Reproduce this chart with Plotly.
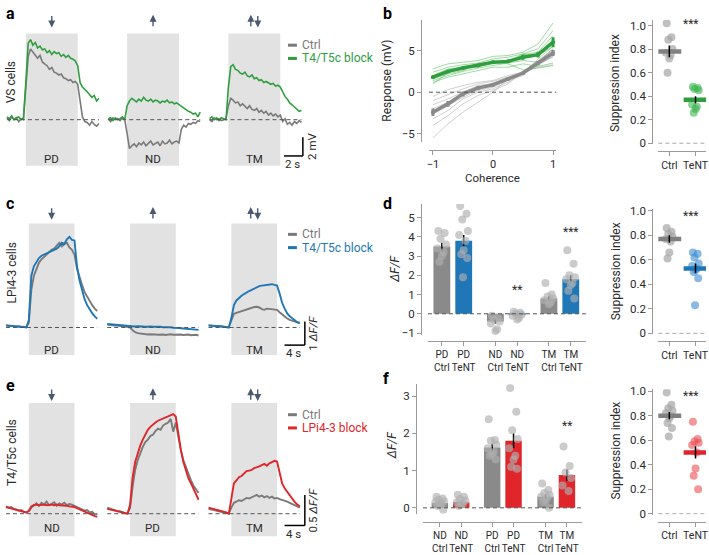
import numpy as np
import plotly.graph_objects as go

# ---------------- DATA ----------------
# Panel a: VS cells (mV), sampled every 0.25 s from -2.0 s; stimulus 0-5.5 s
A_PD_CTRL = [0.2,-0.1,0.3,0.0,0.2,-0.2,0.1,0.0, 3.5,6.8,7.6,7.3,7.0,6.6,6.9,6.2,6.0,5.8,5.4,5.6,5.1,5.0,4.8,4.9,4.5,4.4,4.2,4.3,4.0,4.1,3.8, 1.8,0.3,-0.2,-0.3,-0.6,-0.2,-0.5,-0.7,-0.4]
A_PD_BLOCK = [0.3,0.1,0.4,0.0,0.2,0.3,0.0,0.2, 4.0,8.2,8.6,8.0,8.3,7.7,7.9,7.5,7.6,7.2,7.4,7.0,7.3,7.1,7.2,6.8,7.0,6.7,6.9,6.6,6.5,6.3,5.8, 4.0,3.5,3.3,3.0,2.7,2.4,2.6,2.0,2.3]
A_ND_CTRL = [0.1,-0.2,0.2,0.0,0.1,-0.1,0.2,0.0, -1.5,-3.1,-2.8,-2.6,-2.9,-2.5,-2.7,-2.4,-2.8,-2.6,-2.3,-2.7,-2.5,-2.4,-2.8,-2.3,-2.6,-2.5,-2.2,-2.6,-2.4,-2.3,-2.5, -1.0,-0.6,-0.8,-0.4,-0.5,-0.3,-0.4,-0.1,-0.2]
A_ND_BLOCK = [0.1,0.2,-0.1,0.2,0.0,0.1,0.3,0.0, 1.5,2.0,2.3,2.1,1.9,2.2,2.0,2.4,2.1,2.0,2.2,1.9,2.1,2.0,1.8,2.0,1.9,2.1,1.8,1.9,1.7,1.8,1.6, 1.4,1.2,1.0,0.9,0.8,0.6,0.7,0.3,0.8]
A_TM_CTRL = [0.0,-0.2,0.2,0.0,0.1,-0.1,0.0,0.1, 1.5,2.3,2.1,1.8,1.9,1.5,1.7,1.4,1.2,1.5,1.1,1.0,1.2,0.8,1.0,0.7,0.9,0.5,0.7,0.4,0.6,0.3,0.5, -0.2,0.1,-0.5,-0.3,-0.6,-0.2,-0.4,-0.1,-0.3]
A_TM_BLOCK = [0.1,0.3,0.0,0.2,-0.1,0.2,0.1,0.0, 3.5,5.7,5.9,5.4,5.3,5.0,4.9,5.1,4.7,4.6,4.8,4.4,4.5,4.2,4.3,4.0,4.1,3.9,3.8,3.9,3.6,3.7,3.5, 3.0,2.5,2.2,1.8,1.6,1.4,1.2,0.9,1.0]

# Panel c: LPi4-3 cells (dF/F), sampled every 0.5 s from -4.5 s; stimulus 0-9 s
C_PD_CTRL = [0.1,0.08,0.06,0.07,0.04,0.05,0.02,0.03,0.0, 0.2,1.6,2.2,2.5,2.75,2.9,3.0,3.1,3.2,3.3,3.35,3.5,3.6,3.45,3.55,3.6,3.4,3.3,3.1, 2.5,2.1,1.8,1.5,1.3,1.1,0.95,0.8,0.7]
C_PD_BLOCK = [0.08,0.07,0.07,0.05,0.06,0.03,0.04,0.02,0.01, 0.3,2.2,2.6,2.8,2.95,3.05,3.1,3.15,3.2,3.25,3.3,3.35,3.45,3.6,3.55,3.75,3.85,3.72,3.7, 2.6,2.0,1.55,1.2,0.95,0.75,0.6,0.47,0.37]
C_ND_CTRL = [0.12,0.1,0.11,0.08,0.09,0.06,0.07,0.04,0.03, 0.0,-0.12,-0.2,-0.24,-0.26,-0.28,-0.27,-0.3,-0.29,-0.28,-0.3,-0.31,-0.29,-0.3,-0.32,-0.3,-0.29,-0.31,-0.3, -0.29,-0.3,-0.32,-0.31,-0.3,-0.33,-0.32,-0.31,-0.34]
C_ND_BLOCK = [0.15,0.14,0.12,0.13,0.1,0.1,0.08,0.09,0.07, 0.05,0.06,0.04,0.05,0.06,0.04,0.03,0.05,0.04,0.03,0.04,0.02,0.03,0.01,0.02,0.0,0.01,-0.01,0.0, -0.02,-0.03,-0.04,-0.03,-0.05,-0.06,-0.07,-0.08,-0.1]
C_TM_CTRL = [0.1,0.08,0.09,0.06,0.05,0.04,0.03,0.02,0.0, 0.3,0.58,0.62,0.66,0.7,0.74,0.78,0.8,0.83,0.87,0.88,0.85,0.78,0.75,0.8,0.78,0.76,0.74,0.75, 0.65,0.55,0.45,0.38,0.32,0.28,0.25,0.22,0.2]
C_TM_BLOCK = [0.08,0.06,0.07,0.05,0.06,0.04,0.03,0.02,0.0, 0.4,0.95,1.15,1.27,1.35,1.42,1.5,1.55,1.6,1.66,1.72,1.76,1.78,1.8,1.79,1.82,1.84,1.81,1.78, 1.45,1.05,0.8,0.6,0.48,0.38,0.3,0.22,0.17]

# Panel e: T4/T5c cells (dF/F), sampled every 0.5 s from -4.5 s; stimulus 0-9 s
E_ND_CTRL = [0.12,0.1,0.11,0.08,0.07,0.05,0.06,0.03,0.02, 0.04,0.1,0.14,0.17,0.13,0.18,0.15,0.2,0.14,0.16,0.19,0.13,0.17,0.15,0.18,0.14,0.16,0.15,0.13, 0.12,0.1,0.08,0.05,0.06,0.02,0.03,-0.01,0.0]
E_ND_BLOCK = [0.11,0.1,0.09,0.08,0.06,0.05,0.04,0.03,0.02, 0.05,0.12,0.14,0.15,0.14,0.15,0.15,0.14,0.15,0.15,0.14,0.15,0.14,0.14,0.13,0.13,0.12,0.12,0.11, 0.09,0.07,0.05,0.03,0.02,0.0,-0.02,-0.04,-0.05]
E_PD_CTRL = [0.1,0.08,0.07,0.06,0.04,0.04,0.02,0.01,0.0, 0.1,0.45,0.72,0.88,1.0,1.1,1.18,1.22,1.28,1.3,1.36,1.4,1.38,1.45,1.48,1.5,1.56,1.35,1.5, 1.25,1.05,0.88,0.76,0.64,0.55,0.46,0.4,0.34]
E_PD_BLOCK = [0.08,0.07,0.06,0.05,0.04,0.03,0.02,0.01,0.0, 0.15,0.6,0.85,1.0,1.12,1.22,1.3,1.38,1.43,1.47,1.5,1.53,1.55,1.56,1.58,1.6,1.62,1.64,1.6, 1.3,1.05,0.85,0.7,0.58,0.5,0.4,0.3,0.23]
E_TM_CTRL = [0.08,0.07,0.06,0.05,0.04,0.03,0.02,0.01,0.0, 0.1,0.18,0.2,0.22,0.21,0.24,0.26,0.25,0.27,0.29,0.31,0.28,0.3,0.27,0.29,0.26,0.28,0.25,0.26, 0.24,0.23,0.21,0.2,0.18,0.16,0.15,0.12,0.1]
E_TM_BLOCK = [0.1,0.09,0.08,0.07,0.05,0.04,0.03,0.02,0.0, 0.25,0.5,0.55,0.6,0.62,0.66,0.7,0.71,0.72,0.75,0.76,0.78,0.8,0.82,0.79,0.83,0.85,0.87,0.86, 0.65,0.5,0.42,0.36,0.3,0.24,0.19,0.15,0.12]

# Panel b: coherence tuning (mV)
COHERENCE = [-1, -0.75, -0.5, -0.25, 0, 0.25, 0.5, 0.75, 1]
B_BLOCK_FLIES = [
    [2.8, 3.4, 3.6, 3.8, 4.3, 4.4, 4.8, 5.8, 8.3],
    [2.4, 3.0, 3.3, 3.5, 4.0, 4.2, 4.6, 5.2, 7.4],
    [2.0, 2.8, 3.0, 3.0, 3.6, 3.6, 4.5, 4.8, 6.8],
    [1.6, 2.2, 2.6, 3.4, 3.6, 3.8, 4.2, 4.4, 6.2],
    [1.4, 2.0, 2.5, 2.9, 3.2, 3.5, 3.8, 3.6, 5.2],
    [1.2, 1.8, 2.2, 2.6, 3.0, 3.0, 3.4, 3.1, 3.5],
    [1.8, 2.6, 2.9, 3.1, 3.5, 3.4, 2.7, 2.9, 3.2],
    [1.0, 2.3, 3.1, 3.3, 3.6, 3.7, 4.6, 4.4, 5.5],
]
B_CTRL_FLIES = [
    [-0.5, 0.3, 0.8, 1.2, 1.4, 2.0, 2.4, 3.0, 3.3],
    [-1.0, -0.3, 0.4, 1.0, 1.3, 1.8, 2.2, 3.4, 4.3],
    [-1.5, -0.8, 0.0, 0.8, 1.0, 1.6, 2.4, 3.8, 5.2],
    [-2.0, -1.2, -0.3, 0.4, 1.0, 1.6, 2.3, 4.0, 5.5],
    [-2.6, -1.6, -0.6, 0.2, 0.6, 1.4, 2.0, 3.6, 4.8],
    [-3.2, -2.2, -0.8, 0.0, 0.4, 1.2, 2.2, 3.2, 4.4],
    [-4.0, -2.8, -1.4, -0.4, 0.2, 1.0, 2.5, 3.8, 5.0],
    [-5.5, -3.8, -2.4, -1.2, 0.0, 1.6, 2.2, 3.4, 4.2],
]
B_BLOCK_MEAN = [1.8, 2.5, 2.9, 3.2, 3.6, 3.7, 4.2, 4.5, 6.0]
B_BLOCK_SEM = [0.2, 0.15, 0.15, 0.15, 0.2, 0.2, 0.3, 0.35, 0.6]
B_CTRL_MEAN = [-2.4, -1.4, -0.2, 0.5, 0.9, 1.6, 2.3, 3.5, 4.7]
B_CTRL_SEM = [0.45, 0.35, 0.3, 0.2, 0.2, 0.2, 0.2, 0.25, 0.35]

# Suppression indices
SUP_CATS = ["Ctrl", "TeNT"]
B_SUP_CTRL = [1.02, 0.90, 0.88, 0.80, 0.77, 0.75, 0.72, 0.60]
B_SUP_TENT = [0.48, 0.47, 0.46, 0.45, 0.33, 0.31, 0.29, 0.26]
B_SUP_MEAN = [0.78, 0.37]
B_SUP_SEM = [0.05, 0.03]
D_SUP_CTRL = [0.86, 0.83, 0.81, 0.79, 0.77, 0.75, 0.66, 0.61]
D_SUP_TENT = [0.66, 0.65, 0.62, 0.57, 0.55, 0.53, 0.52, 0.50, 0.45, 0.23]
D_SUP_MEAN = [0.77, 0.53]
D_SUP_SEM = [0.03, 0.04]
F_SUP_CTRL = [0.99, 0.89, 0.86, 0.84, 0.82, 0.80, 0.78, 0.74, 0.70, 0.63]
F_SUP_TENT = [0.75, 0.61, 0.59, 0.58, 0.56, 0.50, 0.37, 0.31, 0.20]
F_SUP_MEAN = [0.80, 0.50]
F_SUP_SEM = [0.03, 0.05]

# Panel d bars (dF/F)
D_LABELS = ["PD<br>Ctrl", "PD<br>TeNT", "ND<br>Ctrl", "ND<br>TeNT", "TM<br>Ctrl", "TM<br>TeNT"]
D_MEANS = [3.5, 3.8, -0.4, -0.05, 0.8, 1.8]
D_SEMS = [0.2, 0.3, 0.1, 0.05, 0.12, 0.2]
D_POINTS = [
    [4.3, 4.2, 3.9, 3.6, 3.4, 3.2, 3.0, 2.7],
    [5.6, 5.2, 4.9, 4.3, 4.1, 3.8, 3.3, 3.1, 2.9, 1.9],
    [-0.1, -0.2, -0.3, -0.4, -0.5, -0.8, -0.9],
    [0.1, 0.05, 0.0, -0.05, -0.1, -0.2, -0.3],
    [1.6, 1.0, 0.9, 0.8, 0.7, 0.6, 0.5],
    [3.3, 2.6, 2.0, 1.9, 1.8, 1.6, 1.5, 1.2, 0.8],
]
# Panel f bars (dF/F)
F_LABELS = ["ND<br>Ctrl", "ND<br>TeNT", "PD<br>Ctrl", "PD<br>TeNT", "TM<br>Ctrl", "TM<br>TeNT"]
F_MEANS = [0.13, 0.15, 1.62, 1.8, 0.3, 0.88]
F_SEMS = [0.04, 0.04, 0.1, 0.2, 0.06, 0.15]
F_POINTS = [
    [0.3, 0.25, 0.22, 0.18, 0.15, 0.1, 0.08, 0.05, -0.05],
    [0.35, 0.3, 0.24, 0.2, 0.15, 0.1, 0.08, 0.05],
    [2.38, 1.82, 1.8, 1.7, 1.6, 1.5, 1.45, 1.4, 1.3],
    [3.22, 2.58, 2.08, 1.85, 1.6, 1.4, 1.3, 1.1, 1.05],
    [0.65, 0.48, 0.4, 0.35, 0.3, 0.28, 0.2, 0.15, 0.0],
    [1.65, 1.12, 0.95, 0.8, 0.6, 0.45],
]

# ---------------- STYLE / LAYOUT ----------------
W, H = 709, 555
FONT = "Roboto"
GRAYT = "#7a7a7a"
GREEN = "#2f9e3f"
BLUE = "#1f77b8"
RED = "#e0262b"
BOXC = "#e2e2e2"
ARROWC = "#4a5870"
AXC = "#9a9a9a"
TXT = "#2a2a2a"
JIT = [-0.10, 0.08, -0.04, 0.12, -0.13, 0.05, 0.0, -0.07, 0.10, -0.02]

fig = go.Figure()
layout = dict(width=W, height=H, margin=dict(l=0, r=0, t=0, b=0),
              paper_bgcolor="white", plot_bgcolor="rgba(0,0,0,0)",
              showlegend=False, font=dict(family=FONT, size=11, color=TXT))
shapes, anns = [], []
naxes = [0]


def X(px):
    return px / W


def Y(py):
    return 1 - py / H


def new_axes(xpx, ypx, xr, yr, xo=None, yo=None):
    naxes[0] += 1
    n = naxes[0]
    s = "" if n == 1 else str(n)
    base = dict(showgrid=False, zeroline=False, showline=False, showticklabels=False, ticks="")
    xa = dict(base, domain=[X(xpx[0]), X(xpx[1])], range=xr, anchor="y" + s)
    ya = dict(base, domain=[Y(ypx[1]), Y(ypx[0])], range=yr, anchor="x" + s)
    if xo:
        xa.update(xo)
    if yo:
        ya.update(yo)
    layout["xaxis" + s] = xa
    layout["yaxis" + s] = ya
    return "x" + s, "y" + s


def text(px, py, t, size=11, color=TXT, angle=0, xanchor="center", yanchor="middle"):
    anns.append(dict(x=X(px), y=Y(py), xref="paper", yref="paper", text=t, showarrow=False,
                     font=dict(size=size, color=color, family=FONT), textangle=angle,
                     xanchor=xanchor, yanchor=yanchor))


def arrow(px, up, ytop, ybot):
    if up:
        anns.append(dict(x=X(px), y=Y(ytop), xref="paper", yref="paper", ax=0, ay=ybot - ytop,
                         text="", showarrow=True, arrowhead=2, arrowsize=1, arrowwidth=1.4, arrowcolor=ARROWC))
    else:
        anns.append(dict(x=X(px), y=Y(ybot), xref="paper", yref="paper", ax=0, ay=ytop - ybot,
                         text="", showarrow=True, arrowhead=2, arrowsize=1, arrowwidth=1.4, arrowcolor=ARROWC))


def pline(x0, y0, x1, y1, color="black", width=1.5, dash=None):
    shapes.append(dict(type="line", xref="paper", yref="paper", x0=X(x0), y0=Y(y0), x1=X(x1), y1=Y(y1),
                       line=dict(color=color, width=width, dash=dash)))


ROWS = [
    dict(letter="a", lety=9, top=29, bot=164, base=117, ppu=9.5, pps=9.5, stim=5.5, t0=-2.0, dt=0.25,
         lefts=[24, 126, 228], labels=["PD", "ND", "TM"], ups=[False, True, None],
         data=[(A_PD_CTRL, A_PD_BLOCK), (A_ND_CTRL, A_ND_BLOCK), (A_TM_CTRL, A_TM_BLOCK)],
         color=GREEN, lw=1.6, name="VS cells", namey=79, arrow_y=(10, 23), lab_y=157,
         leg=("T4/T5c block", 41), sb=(303, 154, 2, 2), sb_lab=("2 s", "2 mV")),
    dict(letter="c", lety=203, top=223, bot=357, base=329, ppu=24, pps=5.11, stim=9.0, t0=-4.5, dt=0.5,
         lefts=[27, 129, 231], labels=["PD", "ND", "TM"], ups=[False, True, None],
         data=[(C_PD_CTRL, C_PD_BLOCK), (C_ND_CTRL, C_ND_BLOCK), (C_TM_CTRL, C_TM_BLOCK)],
         color=BLUE, lw=1.9, name="LPi4-3 cells", namey=273, arrow_y=(206, 219), lab_y=352,
         leg=("T4/T5c block", 234), sb=(305, 347, 4, 1), sb_lab=("4 s", "1 <i>ΔF/F</i>")),
    dict(letter="e", lety=388, top=406, bot=542, base=519, ppu=62, pps=5.11, stim=9.0, t0=-4.5, dt=0.5,
         lefts=[27, 129, 231], labels=["ND", "PD", "TM"], ups=[False, True, None],
         data=[(E_ND_CTRL, E_ND_BLOCK), (E_PD_CTRL, E_PD_BLOCK), (E_TM_CTRL, E_TM_BLOCK)],
         color=RED, lw=1.9, name="T4/T5c cells", namey=456, arrow_y=(391, 404), lab_y=534,
         leg=("LPi4-3 block", 418), sb=(305, 531, 4, 0.5), sb_lab=("4 s", "0.5 <i>ΔF/F</i>")),
]

for R in ROWS:
    n = len(R["data"][0][0])
    t = R["t0"] + R["dt"] * np.arange(n)
    tmin, tmax = t[0] - 0.1, t[-1] + 0.1
    yr = [(R["base"] - R["bot"]) / R["ppu"], (R["base"] - R["top"]) / R["ppu"]]
    for k, left in enumerate(R["lefts"]):
        xa, ya = new_axes([left + tmin * R["pps"], left + tmax * R["pps"]], [R["top"], R["bot"]],
                          [tmin, tmax], yr)
        shapes.append(dict(type="rect", xref=xa, yref=ya + " domain", x0=0, x1=R["stim"], y0=0, y1=1,
                           fillcolor=BOXC, line=dict(width=0), layer="below"))
        shapes.append(dict(type="line", xref=xa, yref=ya, x0=t[0], x1=t[-1], y0=0, y1=0,
                           line=dict(color="#555", width=1, dash="4px,3px")))
        ctrl, blk = R["data"][k]
        fig.add_trace(go.Scatter(x=t, y=ctrl, mode="lines", line=dict(color=GRAYT, width=R["lw"]),
                                 xaxis=xa, yaxis=ya))
        fig.add_trace(go.Scatter(x=t, y=blk, mode="lines", line=dict(color=R["color"], width=R["lw"]),
                                 xaxis=xa, yaxis=ya))
        cx = left + R["stim"] * R["pps"] / 2
        text(cx, R["lab_y"], R["labels"][k], size=11.5)
        y0, y1 = R["arrow_y"]
        if R["ups"][k] is None:
            arrow(cx - 3.5, True, y0, y1)
            arrow(cx + 3.5, False, y0, y1)
        else:
            arrow(cx, R["ups"][k], y0, y1)
    # letter & row label
    text(2, R["lety"], "<b>%s</b>" % R["letter"], size=16, color="black", xanchor="left")
    text(10, R["namey"], R["name"], size=12, angle=-90)
    # legend
    ly = R["leg"][1]
    pline(288, ly, 297, ly, color=GRAYT, width=3)
    text(300, ly, "Ctrl", size=12, color=GRAYT, xanchor="left")
    pline(288, ly + 13.5, 297, ly + 13.5, color=R["color"], width=3)
    text(300, ly + 13.5, R["leg"][0], size=12, color=R["color"], xanchor="left")
    # scale bar
    cxp, cyp, ts, vs = R["sb"]
    pline(cxp - ts * R["pps"], cyp, cxp, cyp, width=1.5)
    pline(cxp, cyp, cxp, cyp - vs * R["ppu"], width=1.5)
    text(cxp - ts * R["pps"] / 2 - 1, cyp + 8.5, R["sb_lab"][0], size=11.5)
    text(cxp + 8.5, cyp - vs * R["ppu"] / 2, R["sb_lab"][1], size=11.5, angle=-90)

AXO = dict(showline=True, linecolor=AXC, linewidth=1, ticks="outside", ticklen=4, tickcolor=AXC,
           tickwidth=1, showticklabels=True, tickangle=0, ticklabeloverflow="allow",
           tickfont=dict(size=11.5, color=TXT, family=FONT))

# ---------------- panel b ----------------
xa, ya = new_axes([430, 558], [15, 140], [-1.066, 1.05], [-6.0, 8.7],
                  xo=dict(AXO, tickvals=[-1, 0, 1], anchor="free", position=Y(148),
                          tickfont=dict(size=11, color=TXT, family=FONT)),
                  yo=dict(AXO, tickvals=[-5, 0, 5], anchor="free", position=X(422)))
shapes.append(dict(type="line", xref=xa + " domain", yref=ya, x0=0, x1=1, y0=0, y1=0,
                   line=dict(color="#555", width=1, dash="4px,3px")))
for fl in B_CTRL_FLIES:
    fig.add_trace(go.Scatter(x=COHERENCE, y=fl, mode="lines", line=dict(color="rgba(170,170,170,0.55)", width=1),
                             xaxis=xa, yaxis=ya))
for fl in B_BLOCK_FLIES:
    fig.add_trace(go.Scatter(x=COHERENCE, y=fl, mode="lines", line=dict(color="rgba(70,180,80,0.5)", width=1),
                             xaxis=xa, yaxis=ya))
fig.add_trace(go.Scatter(x=COHERENCE, y=B_CTRL_MEAN, mode="lines+markers", line=dict(color="#8a8a8a", width=3.5),
                         marker=dict(size=4, color="#8a8a8a"),
                         error_y=dict(type="data", array=B_CTRL_SEM, color="#8a8a8a", thickness=3, width=0),
                         xaxis=xa, yaxis=ya))
fig.add_trace(go.Scatter(x=COHERENCE, y=B_BLOCK_MEAN, mode="lines+markers", line=dict(color=GREEN, width=3.5),
                         marker=dict(size=4, color=GREEN),
                         error_y=dict(type="data", array=B_BLOCK_SEM, color=GREEN, thickness=3, width=0),
                         xaxis=xa, yaxis=ya))
text(388, 9, "<b>b</b>", size=16, color="black")
text(388, 77, "Response (mV)", size=12, angle=-90)
text(494, 176, "Coherence", size=11.5)


# ---------------- suppression panels ----------------
def sup_panel(ypx, xaxis_y, ctrl, tent, means, sems, light, dark, star_y, label_y, yr):
    xa, ya = new_axes([661, 709], ypx, [-0.42, 1.40], yr,
                      xo=dict(AXO, tickvals=[0, 1], ticktext=SUP_CATS, anchor="free", position=Y(xaxis_y),
                              tickfont=dict(size=10.5, color=TXT, family=FONT)),
                      yo=dict(AXO, tickvals=[0, 0.2, 0.4, 0.6, 0.8, 1.0],
                              ticktext=["0", "0.2", "0.4", "0.6", "0.8", "1.0"], anchor="free", position=X(655)))
    shapes.append(dict(type="line", xref=xa + " domain", yref=ya, x0=0, x1=1, y0=0, y1=0,
                       line=dict(color="#aaa", width=1, dash="4px,3px")))
    for i, (vals, col) in enumerate([(ctrl, "rgba(165,165,165,0.7)"), (tent, light)]):
        fig.add_trace(go.Scatter(x=[i + JIT[j % len(JIT)] for j in range(len(vals))], y=vals, mode="markers",
                                 marker=dict(size=8, color=col), xaxis=xa, yaxis=ya))
    fig.add_trace(go.Scatter(x=[0, 1], y=means, mode="markers",
                             marker=dict(symbol="line-ew", size=17, line=dict(width=4.5, color=["#808080", dark])),
                             xaxis=xa, yaxis=ya))
    fig.add_trace(go.Scatter(x=[0, 1], y=means, mode="markers", marker=dict(size=1, opacity=0),
                             error_y=dict(type="data", array=sems, color="black", thickness=1.5, width=0),
                             xaxis=xa, yaxis=ya))
    text(694, star_y, "***", size=12)
    text(618, label_y, "Suppression index", size=12, angle=-90)


sup_panel([15, 142], 149, B_SUP_CTRL, B_SUP_TENT, B_SUP_MEAN, B_SUP_SEM, "rgba(60,180,80,0.6)", GREEN, 19, 80,
          [-0.008, 1.05])
sup_panel([208, 336], 343, D_SUP_CTRL, D_SUP_TENT, D_SUP_MEAN, D_SUP_SEM, "rgba(60,140,210,0.6)", BLUE, 215, 272,
          [-0.008, 1.016])
sup_panel([392, 520], 527, F_SUP_CTRL, F_SUP_TENT, F_SUP_MEAN, F_SUP_SEM, "rgba(235,80,85,0.6)", RED, 399, 455,
          [-0.008, 1.016])


# ---------------- bar panels ----------------
def bar_panel(xpx, ypx, xr, yr, yaxis_x, xaxis_y, pos, labels, means, sems, points, colors, yticks, stars,
              letter, letter_xy, ylab_xy):
    xa, ya = new_axes(xpx, ypx, xr, yr,
                      xo=dict(AXO, tickvals=pos, ticktext=labels, anchor="free", position=Y(xaxis_y),
                              tickfont=dict(size=10, color=TXT, family=FONT)),
                      yo=dict(AXO, tickvals=yticks, anchor="free", position=X(yaxis_x)))
    fig.add_trace(go.Bar(x=pos, y=means, width=0.77, marker=dict(color=colors, line=dict(width=0)),
                         error_y=dict(type="data", array=sems, color="black", thickness=1.5, width=0),
                         xaxis=xa, yaxis=ya))
    for p, vals in zip(pos, points):
        fig.add_trace(go.Scatter(x=[p + 1.6 * JIT[j % len(JIT)] for j in range(len(vals))], y=vals,
                                 mode="markers", marker=dict(size=8, color="rgba(175,175,175,0.65)"),
                                 xaxis=xa, yaxis=ya))
    shapes.append(dict(type="line", xref=xa + " domain", yref=ya, x0=0, x1=1, y0=0, y1=0,
                       line=dict(color="#555", width=1, dash="4px,3px")))
    for idx, s, yv in stars:
        anns.append(dict(x=pos[idx], y=yv, xref=xa, yref=ya, text=s, showarrow=False,
                         font=dict(size=12, color=TXT, family=FONT)))
    text(letter_xy[0], letter_xy[1], "<b>%s</b>" % letter, size=16, color="black")
    text(ylab_xy[0], ylab_xy[1], "<i>ΔF/F</i>", size=12, angle=-90)


POS = [0, 1, 2.45, 3.45, 4.9, 5.9]
bar_panel([429, 588], [203, 337], [-0.636, 6.59], [-1.12, 5.71], 422, 343, POS, D_LABELS, D_MEANS, D_SEMS,
          D_POINTS, ["#8a8a8a", BLUE] * 3, [-1, 0, 1, 2, 3, 4, 5],
          [(3, "**", 1.25), (5, "***", 4.25)], "d", (388, 203), (395, 270))
POSF = [0, 1, 2.45, 3.45, 4.95, 5.95]
bar_panel([424, 584], [387, 519], [-0.79, 6.65], [-0.158, 3.316], 417, 527, POSF, F_LABELS, F_MEANS, F_SEMS,
          F_POINTS, ["#8a8a8a", RED] * 3, [0, 1, 2, 3],
          [(5, "**", 2.2)], "f", (387, 381), (393, 450))

layout["shapes"] = shapes
layout["annotations"] = anns
fig.update_layout(**layout)
fig.write_html("out.html", config={"displayModeBar": False},
               post_script="document.body.style.margin='0px';document.body.style.padding='0px';"
                           "document.body.style.overflow='hidden';")
